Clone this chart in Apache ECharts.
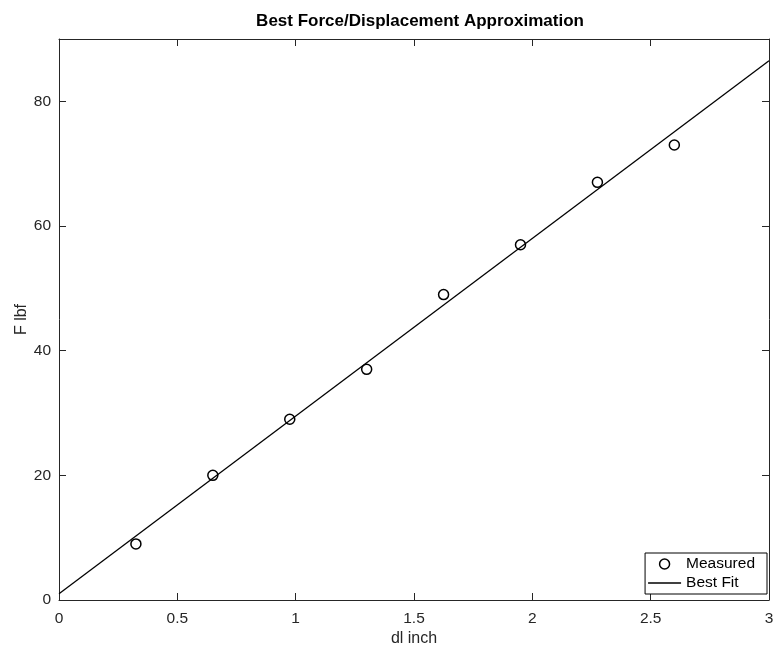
<!DOCTYPE html>
<html>
<head>
<meta charset="utf-8">
<script src="https://cdn.jsdelivr.net/npm/echarts@6/dist/echarts.min.js"></script>
<style>
  html, body { margin: 0; padding: 0; background: #fff; }
  #chart { width: 773px; height: 647px; }
</style>
</head>
<body>
<div id="chart"></div>
<script>
  // measured points
  var dlInch = [0.325, 0.65, 0.975, 1.3, 1.625, 1.95, 2.275, 2.6];
  var forceLbf = [9, 20, 29, 37, 49, 57, 67, 73];
  // best fit line end points
  var fitX = [0, 3];
  var fitY = [1.0, 86.5];

  var measured = [];
  for (var i = 0; i < dlInch.length; i++) {
    measured.push([dlInch[i], forceLbf[i]]);
  }
  var fit = [];
  for (var j = 0; j < fitX.length; j++) {
    fit.push([fitX[j], fitY[j]]);
  }

  var font = 'Liberation Sans, Arial, sans-serif';

  function axisLine() {
    return { show: true, onZero: false, lineStyle: { color: '#262626', width: 1 } };
  }
  function tick() {
    return { show: true, inside: true, length: 7, lineStyle: { color: '#262626' } };
  }

  var chart = echarts.init(document.getElementById('chart'));
  var option = {
    animation: false,
    backgroundColor: '#fff',
    title: {
      text: 'Best Force/Displacement Approximation',
      left: 415,
      textAlign: 'center',
      top: 8,
      textStyle: { fontFamily: font, fontSize: 17, fontWeight: 'bold', color: '#000' }
    },
    grid: { left: 59, right: 4, top: 39, bottom: 47, outerBoundsMode: 'none' },
    legend: {
      orient: 'vertical',
      right: 6,
      bottom: 53,
      backgroundColor: '#fff',
      borderColor: '#000',
      borderWidth: 1,
      borderRadius: 0,
      padding: [3, 12, 3, 3],
      itemGap: 3,
      itemWidth: 33,
      itemHeight: 10,
      textStyle: { fontFamily: font, fontSize: 15.5, color: '#000' },
      data: [
        { name: 'Measured', icon: 'circle', itemStyle: { color: 'rgba(0,0,0,0)', borderColor: '#000', borderWidth: 1.5 } },
        { name: 'Best Fit', icon: 'path://M0,0h33v1.3h-33z', itemStyle: { color: '#000', borderWidth: 0 } }
      ]
    },
    xAxis: [{
      type: 'value',
      min: 0, max: 3, interval: 0.5,
      name: 'dl inch',
      nameLocation: 'middle',
      nameGap: 31,
      nameMoveOverlap: false,
      nameTextStyle: { fontFamily: font, fontSize: 16, color: '#262626' },
      axisLine: axisLine(),
      axisTick: tick(),
      splitLine: { show: false },
      axisLabel: { fontFamily: font, fontSize: 15.5, color: '#262626', margin: 11 }
    }, {
      type: 'value',
      position: 'top',
      min: 0, max: 3, interval: 0.5,
      axisLine: axisLine(),
      axisTick: tick(),
      splitLine: { show: false },
      axisLabel: { show: false }
    }],
    yAxis: [{
      type: 'value',
      min: 0, max: 90, interval: 20,
      name: 'F lbf',
      nameLocation: 'middle',
      nameGap: 29,
      nameMoveOverlap: false,
      nameTextStyle: { fontFamily: font, fontSize: 16, color: '#262626' },
      axisLine: axisLine(),
      axisTick: tick(),
      splitLine: { show: false },
      axisLabel: { fontFamily: font, fontSize: 15.5, color: '#262626', margin: 8, showMaxLabel: false }
    }, {
      type: 'value',
      position: 'right',
      min: 0, max: 90, interval: 20,
      axisLine: axisLine(),
      axisTick: tick(),
      splitLine: { show: false },
      axisLabel: { show: false }
    }],
    series: [{
      name: 'Measured',
      type: 'scatter',
      symbol: 'circle',
      symbolSize: 10,
      itemStyle: { color: 'rgba(0,0,0,0)', borderColor: '#000', borderWidth: 1.5, opacity: 1 },
      data: measured,
      z: 3
    }, {
      name: 'Best Fit',
      type: 'line',
      showSymbol: false,
      symbol: 'none',
      lineStyle: { color: '#000', width: 1.3 },
      itemStyle: { color: '#000' },
      data: fit,
      z: 2
    }]
  };
  chart.setOption(option);
</script>
</body>
</html>
